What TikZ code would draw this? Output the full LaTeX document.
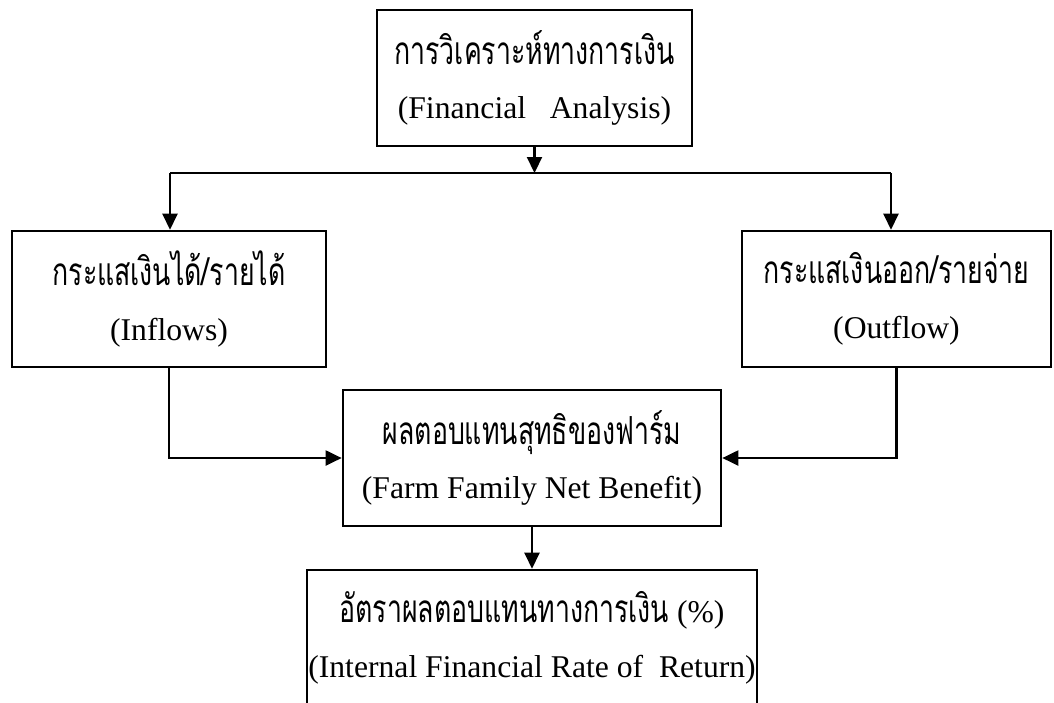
\documentclass[tikz,border=0pt]{standalone}
\usepackage{fontspec}
\setmainfont{Liberation Serif}
\newfontfamily\thaifont[Script=Thai, FakeStretch=0.69]{Loma}
\usetikzlibrary{arrows.meta}
\newcommand{\thaitext}[1]{{\thaifont\fontsize{11}{15.6}\selectfont #1}}

\begin{document}
\begin{tikzpicture}[x=0.01cm, y=-0.01cm,
flowbox/.style={draw, line width=0.7pt, minimum height=1.36cm, inner sep=0pt, align=center, font=\fontsize{9}{15.6}\selectfont},
flowarrow/.style={-{Triangle[length=0.16cm, width=0.15cm]}, line width=0.6pt}
]
    \clip (0,0) rectangle (1054,702);

    \node [flowbox, minimum width=3.15cm] (fin) at (534.5,78) {\thaitext{การวิเคราะห์ทางการเงิน}\\(Financial\ \ \ Analysis)};
    \node [flowbox, minimum width=3.14cm] (inflow) at (169,299) {\thaitext{กระแสเงินได้/รายได้}\\(Inflows)};
    \node [flowbox, minimum width=3.09cm] (outflow) at (896.5,299) {\thaitext{กระแสเงินออก/รายจ่าย}\\(Outflow)};
    \node [flowbox, minimum width=3.78cm] (benefit) at (532,458) {\thaitext{ผลตอบแทนสุทธิของฟาร์ม}\\(Farm Family Net Benefit)};
    \node [flowbox, minimum width=4.50cm] (irr) at (532,638) {\thaitext{อัตราผลตอบแทนทางการเงิน} (\%)\\(Internal Financial Rate of\ \ Return)};

    % split under the top box
    \coordinate (split) at (534.5,173);
    \coordinate (lsplit) at (170,173);
    \coordinate (rsplit) at (891,173);
    \draw [flowarrow] (fin.south) -- (split);
    \draw [line width=0.6pt] (lsplit) -- (rsplit);
    \draw [flowarrow] (lsplit) -- (lsplit |- inflow.north);
    \draw [flowarrow] (rsplit) -- (rsplit |- outflow.north);

    % both flows into the net benefit
    \draw [flowarrow] (inflow.south) |- (benefit.west);
    \draw [flowarrow] (outflow.south) |- (benefit.east);
    \draw [flowarrow] (benefit.south) -- (irr.north);
\end{tikzpicture}
\end{document}
